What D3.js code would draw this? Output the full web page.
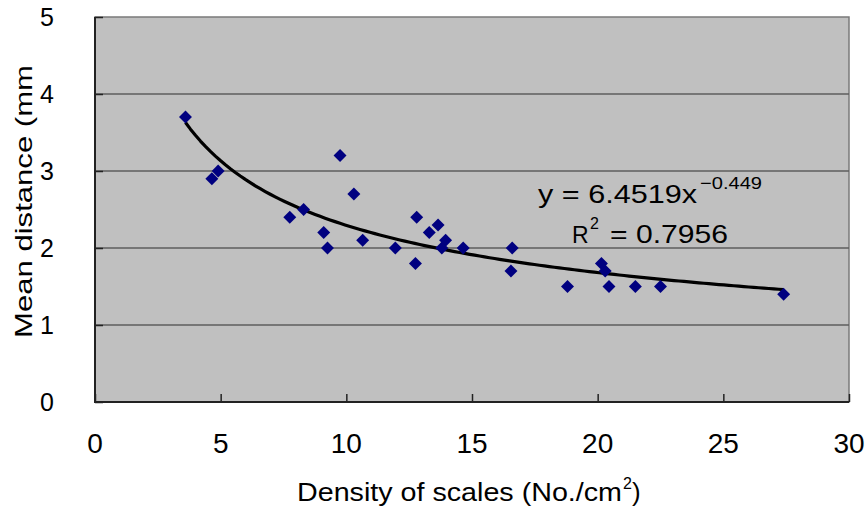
<!DOCTYPE html>
<html>
<head>
<meta charset="utf-8">
<script src="https://cdn.jsdelivr.net/npm/d3@7"></script>
<style>
  html, body { margin: 0; padding: 0; background: #ffffff; }
  svg { display: block; }
  text { font-family: "Liberation Sans", Arial, sans-serif; fill: #000; }
</style>
</head>
<body>
<svg id="chart" width="868" height="512"></svg>
<script>
// ---- data ----
const density = [3.6, 4.65, 4.9, 7.75, 8.3, 9.1, 9.25, 9.75, 10.3, 10.65, 11.95, 12.8, 12.75, 13.3, 13.65, 13.95, 13.8, 14.65, 16.6, 16.55, 18.8, 20.15, 20.3, 20.45, 21.5, 22.5, 27.4];
const meanDistance = [3.7, 2.9, 3.0, 2.4, 2.5, 2.2, 2.0, 3.2, 2.7, 2.1, 2.0, 2.4, 1.8, 2.2, 2.3, 2.1, 2.0, 2.0, 2.0, 1.7, 1.5, 1.8, 1.7, 1.5, 1.5, 1.5, 1.4];
const xTicks = [0, 5, 10, 15, 20, 25, 30];
const yTicks = [0, 1, 2, 3, 4, 5];
const trendCoef = [6.4519, -0.449];   // y = a * x^b
const trendRange = [3.6, 27.4];
const eqMain = "y = 6.4519x";
const eqExp = "\u22120.449";
const r2Label = "= 0.7956";
const xTitle = "Density of scales (No./cm";
const yTitle = "Mean distance (mm";

// ---- layout ----
const svg = d3.select("#chart");
const L = 95, R = 849, T = 17, B = 402;
const x = d3.scaleLinear().domain([0, 30]).range([L, R]);
const y = d3.scaleLinear().domain([0, 5]).range([B, T]);

// plot background
svg.append("rect").attr("x", L).attr("y", T).attr("width", R - L).attr("height", B - T)
  .attr("fill", "#c0c0c0").attr("stroke", "#7a7a7a").attr("stroke-width", 1.5);

// gridlines
svg.append("g").selectAll("line").data(yTicks.filter(d => d > 0 && d < 5)).join("line")
  .attr("x1", L).attr("x2", R).attr("y1", d => y(d)).attr("y2", d => y(d))
  .attr("stroke", "#5e5e5e").attr("stroke-width", 1.6);

// x axis (ticks inward)
const xAxis = svg.append("g").attr("transform", `translate(0,${B})`)
  .call(d3.axisTop(x).tickValues(xTicks).tickSize(8).tickFormat(""));
xAxis.select(".domain").remove();
xAxis.selectAll("line").attr("stroke", "#222").attr("stroke-width", 1.5);
svg.append("line").attr("x1", L - 1).attr("x2", R).attr("y1", B).attr("y2", B)
  .attr("stroke", "#222").attr("stroke-width", 2);
svg.append("g").selectAll("text").data(xTicks).join("text")
  .attr("x", d => x(d)).attr("y", 453).attr("text-anchor", "middle")
  .attr("font-size", 28).text(d => d);

// y axis
const yAxis = svg.append("g").attr("transform", `translate(${L},0)`)
  .call(d3.axisRight(y).tickValues(yTicks).tickSize(8).tickFormat(""));
yAxis.select(".domain").remove();
yAxis.selectAll("line").attr("stroke", "#222").attr("stroke-width", 1.5);
svg.append("line").attr("x1", L).attr("x2", L).attr("y1", T).attr("y2", B + 1)
  .attr("stroke", "#222").attr("stroke-width", 2);
svg.append("g").selectAll("text").data(yTicks).join("text")
  .attr("x", 54).attr("y", d => y(d) + 9).attr("text-anchor", "end")
  .attr("font-size", 25).text(d => d);

// trendline
const nSamp = 120;
const trendPts = d3.range(nSamp + 1).map(i => {
  const xv = trendRange[0] + (trendRange[1] - trendRange[0]) * i / nSamp;
  return [xv, trendCoef[0] * Math.pow(xv, trendCoef[1])];
});
svg.append("path").datum(trendPts)
  .attr("d", d3.line().x(d => x(d[0])).y(d => y(d[1])))
  .attr("fill", "none").attr("stroke", "#000").attr("stroke-width", 3.2)
  .attr("stroke-linejoin", "round");

// points
const pts = density.map((d, i) => [d, meanDistance[i]]);
svg.append("g").selectAll("path").data(pts).join("path")
  .attr("d", d3.symbol().type(d3.symbolSquare).size(84))
  .attr("transform", d => `translate(${x(d[0])},${y(d[1])}) rotate(45)`)
  .attr("fill", "#000080");

// equation (one text element per line, superscripts as tspans)
const eq = svg.append("text").attr("x", 538).attr("y", 203).attr("font-size", 25);
eq.append("tspan").attr("textLength", 159).attr("lengthAdjust", "spacingAndGlyphs").text(eqMain);
eq.append("tspan").attr("x", 700).attr("dy", -14).attr("font-size", 17)
  .attr("textLength", 62).attr("lengthAdjust", "spacingAndGlyphs").text(eqExp);

const r2 = svg.append("text").attr("x", 572).attr("y", 243).attr("font-size", 25);
r2.append("tspan").attr("font-size", 23).text("R");
r2.append("tspan").attr("x", 590).attr("dy", -14).attr("font-size", 16).text("2");
r2.append("tspan").attr("x", 610).attr("dy", 14)
  .attr("textLength", 118).attr("lengthAdjust", "spacingAndGlyphs").text(r2Label);

// axis titles
const xt = svg.append("text").attr("x", 297).attr("y", 501).attr("font-size", 26);
xt.append("tspan").attr("textLength", 325).attr("lengthAdjust", "spacingAndGlyphs").text(xTitle);
xt.append("tspan").attr("x", 623).attr("dy", -12).attr("font-size", 16).text("2");
xt.append("tspan").attr("x", 632).attr("dy", 12).text(")");

svg.append("text").attr("transform", "translate(32,338) rotate(-90)")
  .attr("font-size", 24).attr("textLength", 273).attr("lengthAdjust", "spacingAndGlyphs")
  .text(yTitle);
</script>
</body>
</html>
